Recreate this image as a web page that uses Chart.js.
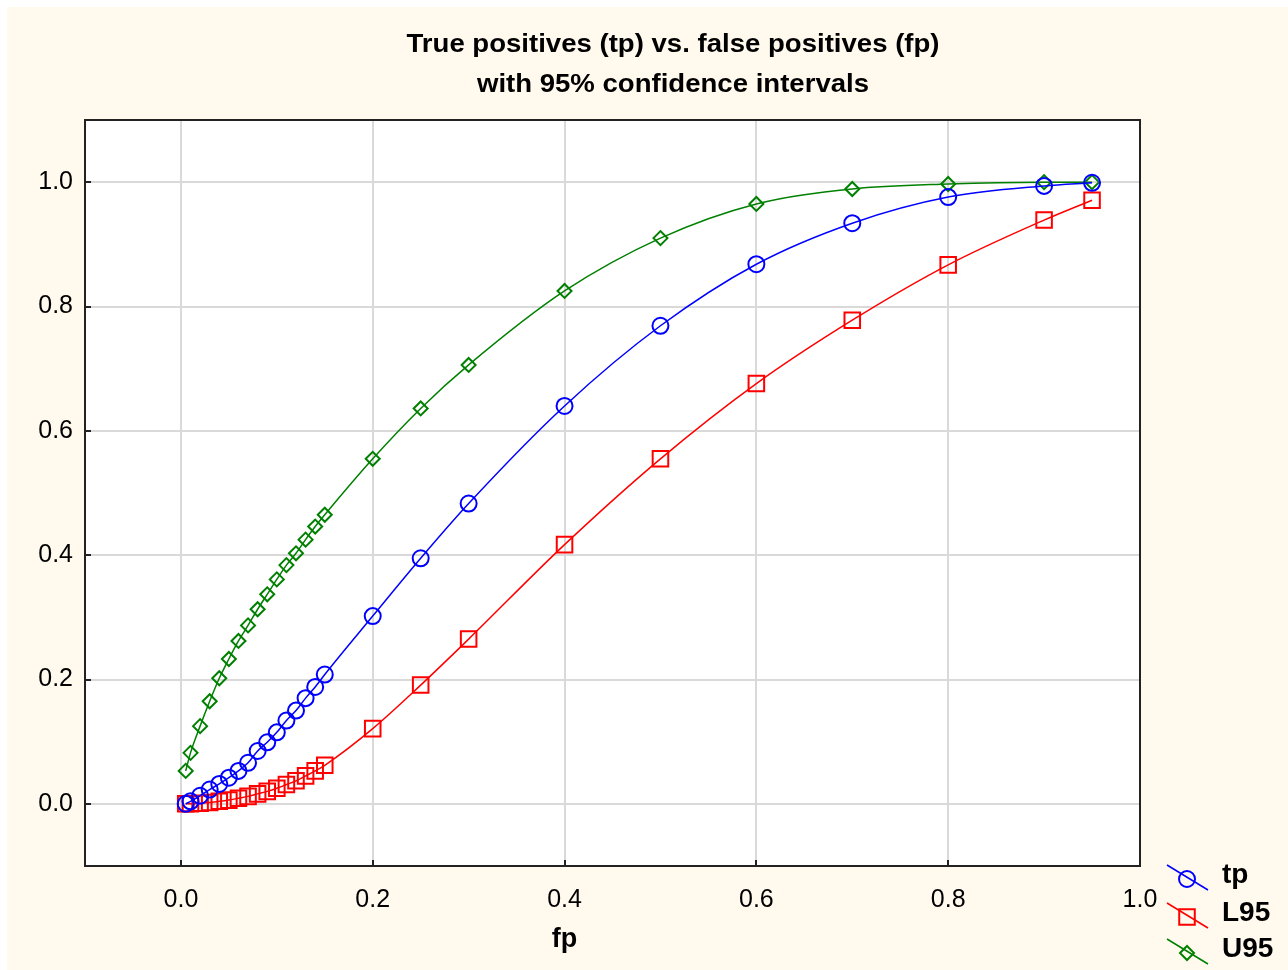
<!DOCTYPE html>
<html>
<head>
<meta charset="utf-8">
<script src="https://cdn.jsdelivr.net/npm/chart.js@4.4.1/dist/chart.umd.min.js"></script>
<style>
  html, body { margin: 0; padding: 0; background: #ffffff; }
  #wrap { width: 1288px; height: 970px; }
</style>
</head>
<body>
<div id="wrap"><canvas id="roc" width="1288" height="970"></canvas></div>
<script>
// false positive rates (x)
var fpValues = [0.005, 0.01, 0.02, 0.03, 0.04, 0.05, 0.06, 0.07, 0.08, 0.09, 0.10,
  0.11, 0.12, 0.13, 0.14, 0.15, 0.2, 0.25, 0.3, 0.4, 0.5, 0.6, 0.7, 0.8, 0.9, 0.95];

// true positives
var tpValues = [0.000, 0.004, 0.013, 0.023, 0.032, 0.042, 0.053, 0.066, 0.085, 0.099, 0.115,
  0.134, 0.150, 0.170, 0.188, 0.208, 0.302, 0.395, 0.483, 0.640, 0.769, 0.868, 0.934, 0.976, 0.994, 0.999];

// lower 95% bound
var l95Values = [0.000, 0.000, 0.001, 0.002, 0.004, 0.006, 0.009, 0.012, 0.016, 0.020, 0.025,
  0.031, 0.037, 0.045, 0.053, 0.062, 0.121, 0.191, 0.265, 0.417, 0.555, 0.676, 0.778, 0.867, 0.939, 0.971];

// upper 95% bound
var u95Values = [0.053, 0.082, 0.125, 0.165, 0.202, 0.233, 0.262, 0.287, 0.313, 0.337, 0.361,
  0.384, 0.403, 0.425, 0.446, 0.465, 0.555, 0.636, 0.706, 0.825, 0.910, 0.965, 0.989, 0.997, 1.000, 1.000];

var xTicks = [0.0, 0.2, 0.4, 0.6, 0.8, 1.0];
var yTicks = [0.0, 0.2, 0.4, 0.6, 0.8, 1.0];

var titleLines = ['True positives (tp) vs. false positives (fp)', 'with 95% confidence intervals'];
var xTitle = 'fp';

var fontName = "'Liberation Sans', Arial, sans-serif";

function toPoints(xs, ys) {
  return xs.map(function(x, i) { return { x: x, y: ys[i] }; });
}

var series = [
  { label: 'tp', color: '#0000ff', style: 'circle', radius: 8, values: tpValues },
  { label: 'L95', color: '#ff0000', style: 'rect', radius: 11, values: l95Values },
  { label: 'U95', color: '#008000', style: 'rectRot', radius: 7, values: u95Values }
];

// backgrounds, frame, inward tick marks, title and legend
var decorPlugin = {
  id: 'decor',
  beforeDraw: function(chart) {
    var ctx = chart.ctx, a = chart.chartArea;
    ctx.save();
    ctx.fillStyle = '#ffffff';
    ctx.fillRect(0, 0, chart.width, chart.height);
    ctx.fillStyle = '#fff9ee';
    ctx.fillRect(7, 7, chart.width - 7, chart.height - 7);
    ctx.fillStyle = '#ffffff';
    ctx.fillRect(a.left, a.top, a.right - a.left, a.bottom - a.top);
    ctx.restore();
  },
  afterDraw: function(chart) {
    var ctx = chart.ctx, a = chart.chartArea;
    var xs = chart.scales.x, ys = chart.scales.y;
    ctx.save();
    // frame
    ctx.strokeStyle = '#222222';
    ctx.lineWidth = 2;
    ctx.strokeRect(a.left, a.top, a.right - a.left, a.bottom - a.top);
    // inward tick marks
    xTicks.forEach(function(v) {
      var px = Math.round(xs.getPixelForValue(v));
      ctx.beginPath();
      ctx.moveTo(px, a.bottom);
      ctx.lineTo(px, a.bottom - 6);
      ctx.stroke();
    });
    yTicks.forEach(function(v) {
      var py = Math.round(ys.getPixelForValue(v));
      ctx.beginPath();
      ctx.moveTo(a.left, py);
      ctx.lineTo(a.left + 6, py);
      ctx.stroke();
    });

    // title (slightly condensed like the original)
    ctx.fillStyle = '#000000';
    ctx.font = 'bold 26px ' + fontName;
    ctx.textAlign = 'center';
    ctx.textBaseline = 'middle';
    var squeeze = 533 / ctx.measureText(titleLines[0]).width;
    [45, 85].forEach(function(cy, i) {
      ctx.save();
      ctx.translate(673, cy);
      ctx.scale(squeeze, 1);
      ctx.fillText(titleLines[i], 0, 0);
      ctx.restore();
    });

    // x axis title
    ctx.font = 'bold 27px ' + fontName;
    ctx.fillText(xTitle, xs.getPixelForValue(0.4), 940);

    // legend
    var rows = [874, 912, 948];
    series.forEach(function(s, i) {
      var cy = rows[i];
      ctx.strokeStyle = s.color;
      ctx.lineWidth = 1.5;
      ctx.beginPath();
      ctx.moveTo(1167, cy - 9);
      ctx.lineTo(1208, cy + 16);
      ctx.stroke();
      ctx.fillStyle = 'rgba(0,0,0,0)';
      ctx.lineWidth = 2;
      Chart.helpers.drawPoint(ctx, {
        pointStyle: s.style,
        radius: s.radius,
        borderWidth: 2,
        rotation: 0
      }, 1187, cy + 5);
      ctx.fillStyle = '#000000';
      ctx.font = 'bold 28px ' + fontName;
      ctx.textAlign = 'left';
      ctx.textBaseline = 'middle';
      ctx.fillText(s.label, 1222, cy + 1);
    });
    ctx.restore();
  }
};

var datasets = series.map(function(s) {
  return {
    label: s.label,
    data: toPoints(fpValues, s.values),
    borderColor: s.color,
    backgroundColor: 'rgba(0,0,0,0)',
    borderWidth: 1.5,
    pointStyle: s.style,
    pointRadius: s.radius,
    pointBorderWidth: 2,
    pointBorderColor: s.color,
    pointBackgroundColor: 'rgba(0,0,0,0)',
    cubicInterpolationMode: 'monotone',
    fill: false
  };
});

var ctx = document.getElementById('roc').getContext('2d');
new Chart(ctx, {
  type: 'line',
  data: { datasets: datasets },
  options: {
    responsive: false,
    animation: false,
    layout: { padding: { left: 0, right: 148, top: 120, bottom: 0 } },
    plugins: {
      legend: { display: false },
      title: { display: false },
      tooltip: { enabled: false }
    },
    scales: {
      x: {
        type: 'linear',
        min: -0.1,
        max: 1.0,
        afterBuildTicks: function(scale) {
          scale.ticks = xTicks.map(function(v) { return { value: v }; });
        },
        afterFit: function(scale) { scale.height = 104; },
        grid: { color: '#d9d9d9', lineWidth: 2, drawTicks: false },
        border: { display: false },
        ticks: {
          padding: 19,
          color: '#000000',
          font: { family: fontName, size: 25 },
          maxRotation: 0,
          callback: function(v) { return Number(v).toFixed(1); }
        }
      },
      y: {
        type: 'linear',
        min: -0.1,
        max: 1.1,
        afterBuildTicks: function(scale) {
          scale.ticks = yTicks.map(function(v) { return { value: v }; });
        },
        afterFit: function(scale) { scale.width = 85; },
        grid: { color: '#d9d9d9', lineWidth: 2, drawTicks: false },
        border: { display: false },
        ticks: {
          padding: 12,
          color: '#000000',
          font: { family: fontName, size: 25 },
          callback: function(v) { return Number(v).toFixed(1); }
        }
      }
    }
  },
  plugins: [decorPlugin]
});
</script>
</body>
</html>
